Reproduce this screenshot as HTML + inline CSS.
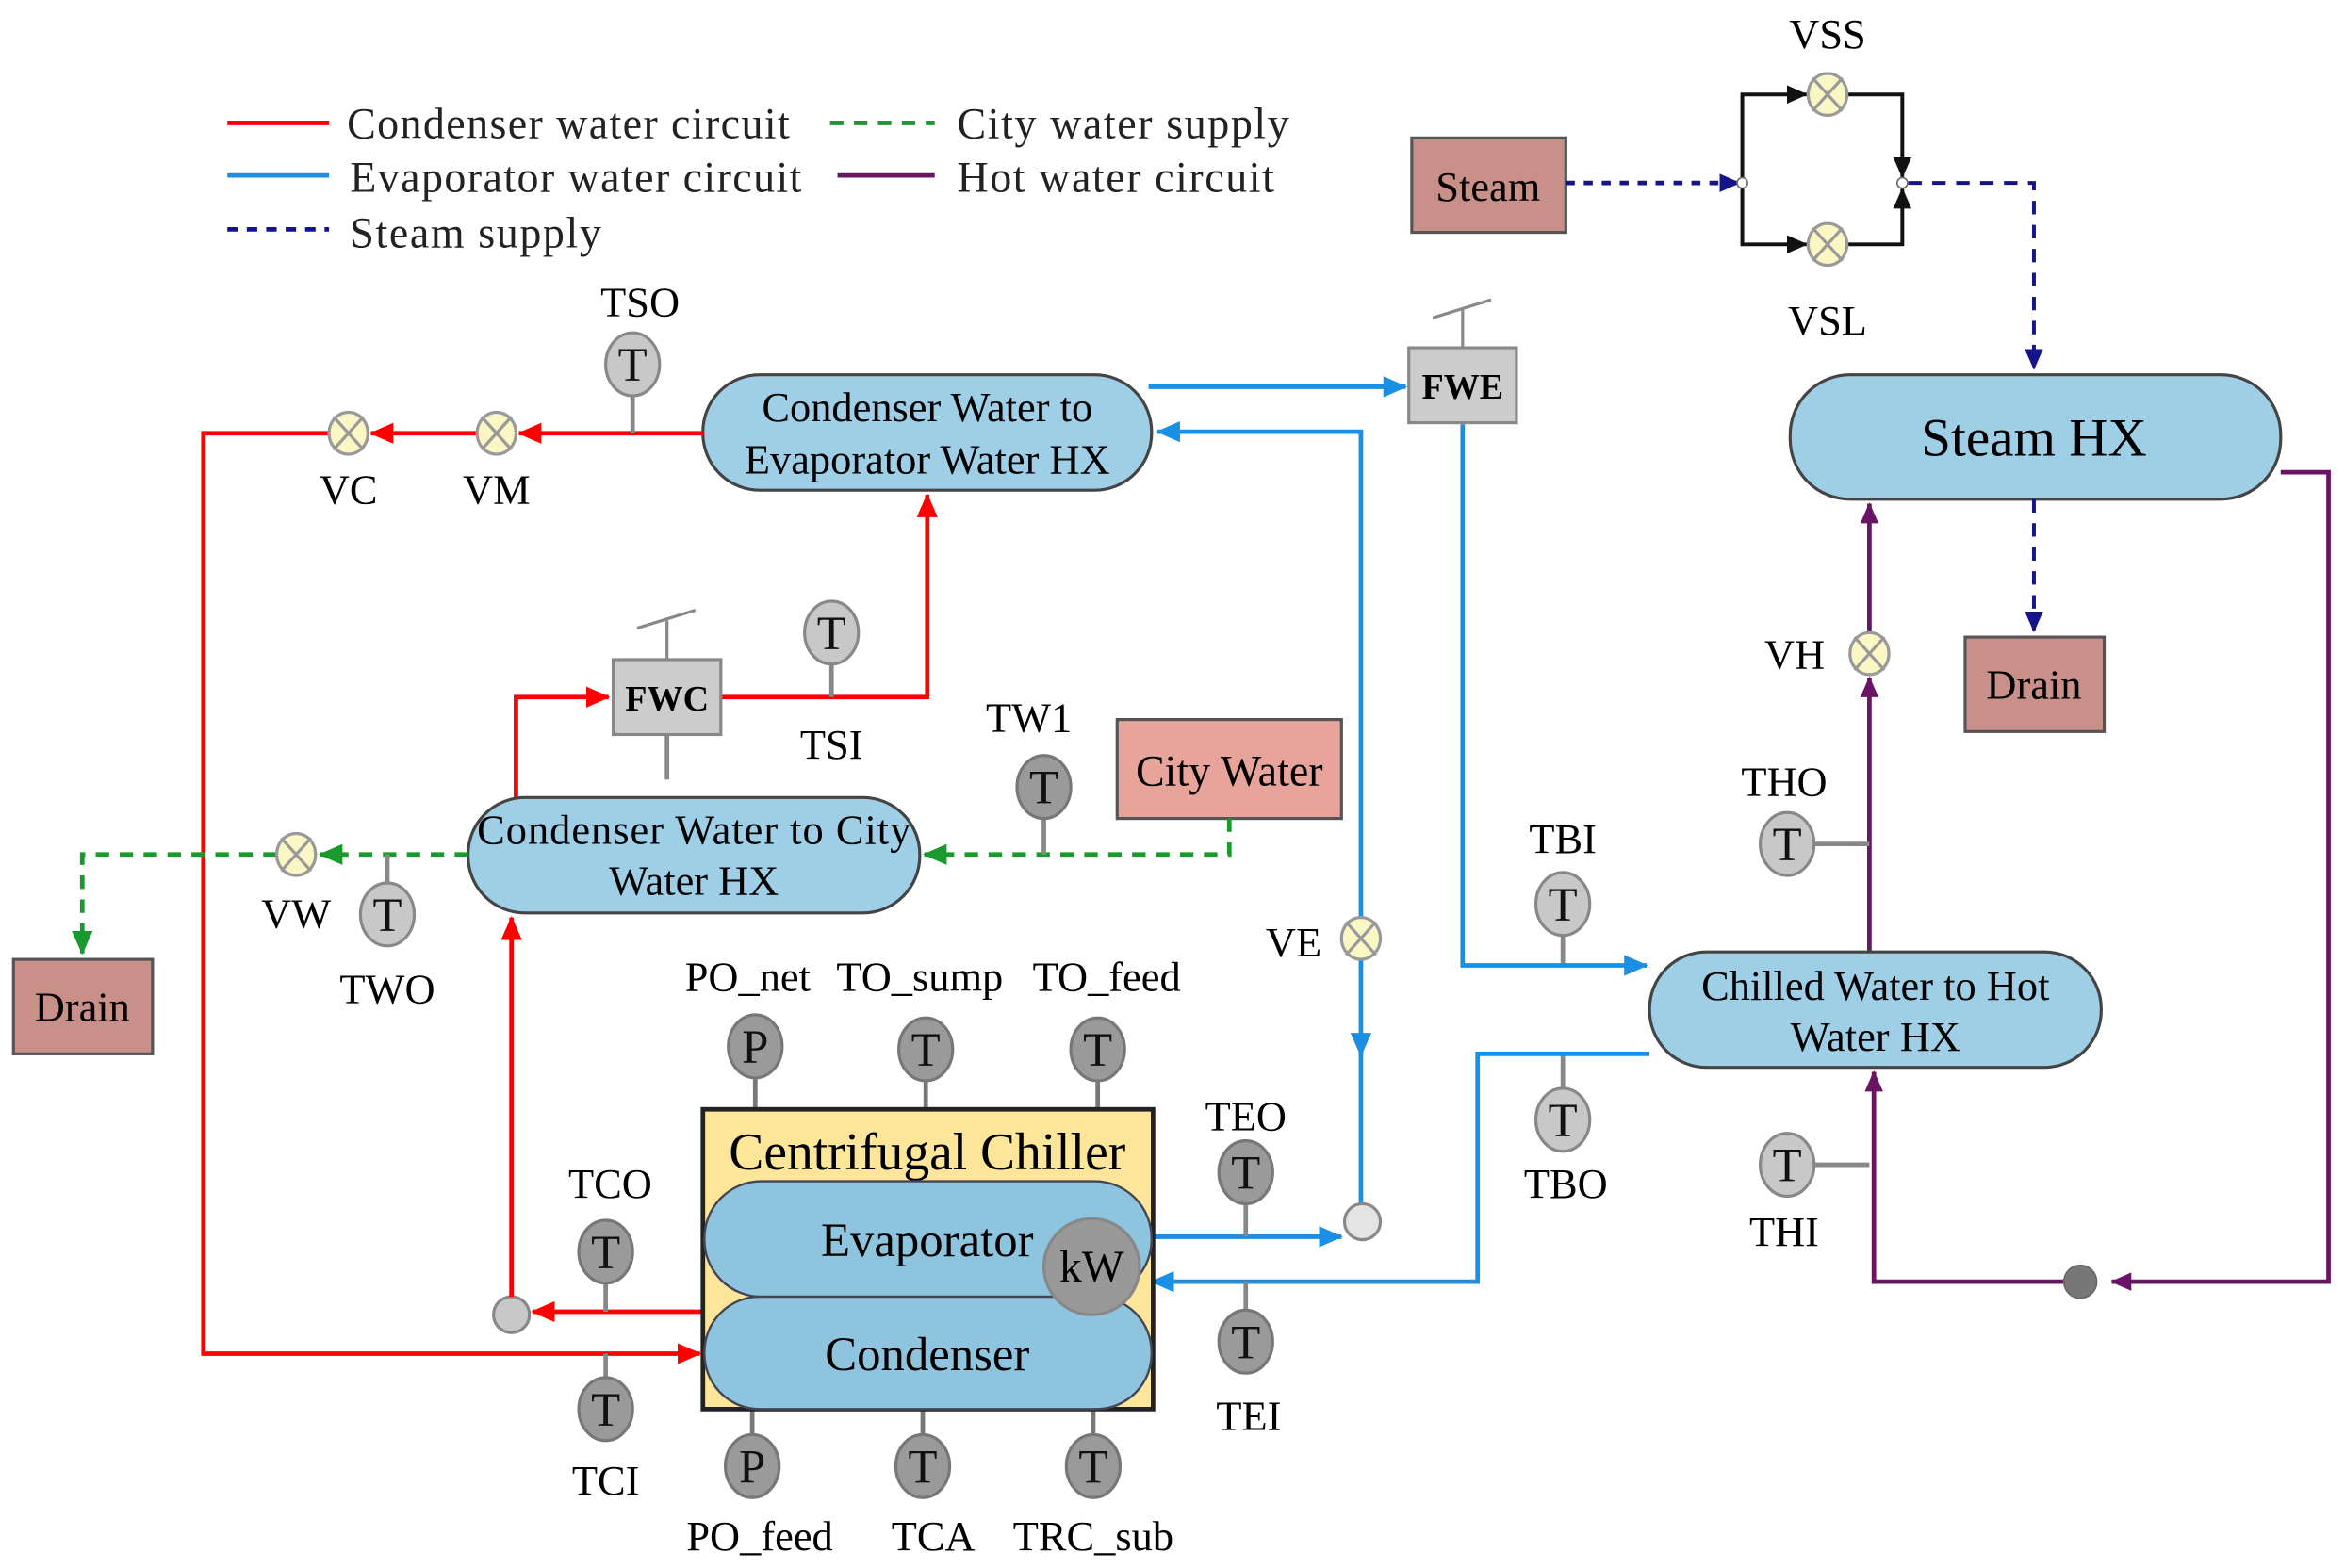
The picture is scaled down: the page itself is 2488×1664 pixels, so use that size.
<!DOCTYPE html>
<html><head><meta charset="utf-8"><style>html,body{margin:0;padding:0;background:#fff}svg{display:block}svg text{font-family:"Liberation Serif","Times New Roman",serif}</style></head>
<body>
<svg width="2488" height="1664" viewBox="0 0 1568 1046" preserveAspectRatio="none" xmlns="http://www.w3.org/2000/svg" style="font-family:'Liberation Serif',serif">
<defs>
<marker id="ab" viewBox="0 0 16 16" refX="15" refY="8" markerWidth="16" markerHeight="16" orient="auto" markerUnits="userSpaceOnUse"><path d="M0,1L16,8L0,15z" fill="#1a8fe3"/></marker>
<marker id="rr" viewBox="0 0 16 16" refX="15" refY="8" markerWidth="16" markerHeight="16" orient="auto" markerUnits="userSpaceOnUse"><path d="M0,1L16,8L0,15z" fill="#f00"/></marker>
<marker id="ag" viewBox="0 0 16 16" refX="15" refY="8" markerWidth="16" markerHeight="16" orient="auto" markerUnits="userSpaceOnUse"><path d="M0,1L16,8L0,15z" fill="#1a9a2e"/></marker>
<marker id="an" viewBox="0 0 16 16" refX="15" refY="8" markerWidth="14" markerHeight="14" orient="auto" markerUnits="userSpaceOnUse"><path d="M0,1L16,8L0,15z" fill="#14148c"/></marker>
<marker id="ap" viewBox="0 0 16 16" refX="15" refY="8" markerWidth="14" markerHeight="14" orient="auto" markerUnits="userSpaceOnUse"><path d="M0,1L16,8L0,15z" fill="#6a1466"/></marker>
<marker id="ak" viewBox="0 0 16 16" refX="15" refY="8" markerWidth="14" markerHeight="14" orient="auto" markerUnits="userSpaceOnUse"><path d="M0,1L16,8L0,15z" fill="#111"/></marker>
<g id="valve"><ellipse cx="0" cy="0" rx="13" ry="14" fill="#fbf7c4" stroke="#999" stroke-width="2"/><path d="M-10,-11L10,11M10,-11L-10,11" stroke="#999" stroke-width="2"/></g>
<g id="tl"><ellipse cx="0" cy="0" rx="18" ry="21" fill="#c8c8c8" stroke="#888" stroke-width="2"/><text x="0" y="11" font-size="32" text-anchor="middle" fill="#111">T</text></g>
<g id="td"><ellipse cx="0" cy="0" rx="18" ry="21" fill="#9a9a9a" stroke="#777" stroke-width="2"/><text x="0" y="11" font-size="32" text-anchor="middle" fill="#111">T</text></g>
<g id="pd"><ellipse cx="0" cy="0" rx="18" ry="21" fill="#9a9a9a" stroke="#777" stroke-width="2"/><text x="0" y="11" font-size="32" text-anchor="middle" fill="#111">P</text></g>
</defs>

<!-- legend -->
<g font-size="29" fill="#222">
<line x1="152" y1="82" x2="220" y2="82" stroke="#f00" stroke-width="3"/><text x="232" y="92" textLength="296">Condenser water circuit</text>
<line x1="152" y1="117" x2="220" y2="117" stroke="#1a8fe3" stroke-width="3"/><text x="234" y="128" textLength="302">Evaporator water circuit</text>
<line x1="152" y1="153" x2="220" y2="153" stroke="#14148c" stroke-width="3" stroke-dasharray="7,6"/><text x="234" y="165" textLength="168">Steam supply</text>
<line x1="555" y1="82" x2="625" y2="82" stroke="#1a9a2e" stroke-width="3" stroke-dasharray="9,7"/><text x="640" y="92" textLength="222">City water supply</text>
<line x1="560" y1="117" x2="625" y2="117" stroke="#6a1466" stroke-width="3"/><text x="640" y="128" textLength="212">Hot water circuit</text>
</g>

<!-- steam section -->
<rect x="944" y="92" width="103" height="63" fill="#c9908a" stroke="#555" stroke-width="2"/>
<text x="995" y="134" font-size="28" text-anchor="middle">Steam</text>
<path d="M1047,122H1163" stroke="#14148c" stroke-width="3" stroke-dasharray="6,6" fill="none" marker-end="url(#an)"/>
<path d="M1165,122V63H1208" stroke="#111" stroke-width="2.5" fill="none" marker-end="url(#ak)"/>
<path d="M1165,122V163H1208" stroke="#111" stroke-width="2.5" fill="none" marker-end="url(#ak)"/>
<path d="M1235,63H1272V118" stroke="#111" stroke-width="2.5" fill="none" marker-end="url(#ak)"/>
<path d="M1235,163H1272V126" stroke="#111" stroke-width="2.5" fill="none" marker-end="url(#ak)"/>
<circle cx="1165" cy="122" r="3.5" fill="#fff" stroke="#666"/>
<circle cx="1272" cy="122" r="3.5" fill="#fff" stroke="#666"/>
<use href="#valve" x="1222" y="63"/><use href="#valve" x="1222" y="163"/>
<text x="1222" y="32" font-size="28" text-anchor="middle">VSS</text>
<text x="1222" y="223" font-size="28" text-anchor="middle">VSL</text>
<path d="M1276,122H1360V246" stroke="#14148c" stroke-width="2.5" stroke-dasharray="9,7" fill="none" marker-end="url(#an)"/>

<rect x="1197" y="250" width="328" height="83" rx="40" fill="#9fcfe6" stroke="#444" stroke-width="2"/>
<text x="1360" y="304" font-size="36" text-anchor="middle">Steam HX</text>
<path d="M1360,333V421" stroke="#14148c" stroke-width="2.5" stroke-dasharray="9,7" fill="none" marker-end="url(#an)"/>
<rect x="1314" y="425" width="93" height="63" fill="#c9908a" stroke="#555" stroke-width="2"/>
<text x="1360" y="466" font-size="28" text-anchor="middle">Drain</text>

<!-- hot water circuit -->
<path d="M1525,315H1557V855H1412" stroke="#6a1466" stroke-width="3" fill="none" marker-end="url(#ap)"/>
<path d="M1391,855H1253V715" stroke="#6a1466" stroke-width="3" fill="none" marker-end="url(#ap)"/>
<circle cx="1391" cy="855" r="11" fill="#777" stroke="#666"/>
<path d="M1250,636V452" stroke="#6a1466" stroke-width="3" fill="none" marker-end="url(#ap)"/>
<path d="M1250,422V336" stroke="#6a1466" stroke-width="3" fill="none" marker-end="url(#ap)"/>
<use href="#valve" x="1250" y="436"/>
<text x="1200" y="446" font-size="28" text-anchor="middle">VH</text>
<line x1="1213" y1="563" x2="1250" y2="563" stroke="#888" stroke-width="3"/>
<use href="#tl" x="1195" y="563"/>
<text x="1193" y="531" font-size="28" text-anchor="middle">THO</text>
<line x1="1213" y1="777" x2="1250" y2="777" stroke="#888" stroke-width="3"/>
<use href="#tl" x="1195" y="777"/>
<text x="1193" y="831" font-size="28" text-anchor="middle">THI</text>

<!-- chilled water HX -->
<rect x="1103" y="635" width="302" height="77" rx="38" fill="#9fcfe6" stroke="#444" stroke-width="2"/>
<text x="1254" y="667" font-size="28" text-anchor="middle">Chilled Water to Hot</text>
<text x="1254" y="701" font-size="28" text-anchor="middle">Water HX</text>
<line x1="1045" y1="620" x2="1045" y2="644" stroke="#888" stroke-width="3"/>
<use href="#tl" x="1045" y="603"/>
<text x="1045" y="569" font-size="28" text-anchor="middle">TBI</text>
<line x1="1045" y1="703" x2="1045" y2="730" stroke="#888" stroke-width="3"/>
<use href="#tl" x="1045" y="747"/>
<text x="1047" y="799" font-size="28" text-anchor="middle">TBO</text>

<!-- blue circuit -->
<path d="M978,283V644H1101" stroke="#1a8fe3" stroke-width="3" fill="none" marker-end="url(#ab)"/>
<path d="M1103,703H988V855H770" stroke="#1a8fe3" stroke-width="3" fill="none" marker-end="url(#ab)"/>
<path d="M768,258H940" stroke="#1a8fe3" stroke-width="3" fill="none" marker-end="url(#ab)"/>
<path d="M910,612V288H774" stroke="#1a8fe3" stroke-width="3" fill="none" marker-end="url(#ab)"/>
<path d="M910,640V704" stroke="#1a8fe3" stroke-width="3" fill="none" marker-end="url(#ab)"/>
<path d="M910,700V804" stroke="#1a8fe3" stroke-width="3" fill="none"/>
<use href="#valve" x="910" y="626"/>
<text x="865" y="638" font-size="28" text-anchor="middle">VE</text>
<path d="M771,825H897" stroke="#1a8fe3" stroke-width="3" fill="none" marker-end="url(#ab)"/>
<circle cx="911" cy="815" r="12" fill="#e4e4e4" stroke="#888" stroke-width="2"/>
<line x1="833" y1="800" x2="833" y2="825" stroke="#888" stroke-width="3"/>
<use href="#td" x="833" y="782"/>
<text x="833" y="754" font-size="28" text-anchor="middle">TEO</text>
<line x1="833" y1="855" x2="833" y2="878" stroke="#888" stroke-width="3"/>
<use href="#td" x="833" y="895"/>
<text x="835" y="954" font-size="28" text-anchor="middle">TEI</text>

<!-- FWE -->
<line x1="978" y1="232" x2="978" y2="206" stroke="#888" stroke-width="2"/>
<line x1="958" y1="212" x2="997" y2="200" stroke="#888" stroke-width="2"/>
<rect x="942" y="232" width="72" height="50" fill="#cccccc" stroke="#888" stroke-width="2"/>
<text x="978" y="266" font-size="24" font-weight="bold" text-anchor="middle">FWE</text>

<!-- Condenser to evaporator HX -->
<rect x="470" y="250" width="300" height="77" rx="38" fill="#9fcfe6" stroke="#444" stroke-width="2"/>
<text x="620" y="281" font-size="28" text-anchor="middle">Condenser Water to</text>
<text x="620" y="316" font-size="28" text-anchor="middle">Evaporator Water HX</text>

<!-- red circuit -->
<path d="M470,289H347" stroke="#f00" stroke-width="3" fill="none" marker-end="url(#rr)"/>
<path d="M319,289H248" stroke="#f00" stroke-width="3" fill="none" marker-end="url(#rr)"/>
<path d="M220,289H136V903H468" stroke="#f00" stroke-width="3" fill="none" marker-end="url(#rr)"/>
<use href="#valve" x="332" y="289"/><use href="#valve" x="233" y="289"/>
<text x="332" y="336" font-size="28" text-anchor="middle">VM</text>
<text x="233" y="336" font-size="28" text-anchor="middle">VC</text>
<line x1="423" y1="262" x2="423" y2="289" stroke="#888" stroke-width="3"/>
<use href="#tl" x="423" y="243"/>
<text x="428" y="211" font-size="28" text-anchor="middle">TSO</text>
<path d="M470,875H356" stroke="#f00" stroke-width="3" fill="none" marker-end="url(#rr)"/>
<circle cx="342" cy="877" r="12" fill="#c8c8c8" stroke="#888" stroke-width="2"/>
<path d="M342,865V612" stroke="#f00" stroke-width="3" fill="none" marker-end="url(#rr)"/>
<path d="M345,532V465H407" stroke="#f00" stroke-width="3" fill="none" marker-end="url(#rr)"/>
<path d="M482,465H620V330" stroke="#f00" stroke-width="3" fill="none" marker-end="url(#rr)"/>
<line x1="405" y1="853" x2="405" y2="875" stroke="#888" stroke-width="3"/>
<use href="#td" x="405" y="835"/>
<text x="408" y="799" font-size="28" text-anchor="middle">TCO</text>
<line x1="405" y1="903" x2="405" y2="923" stroke="#888" stroke-width="3"/>
<use href="#td" x="405" y="940"/>
<text x="405" y="997" font-size="28" text-anchor="middle">TCI</text>
<line x1="556" y1="440" x2="556" y2="465" stroke="#888" stroke-width="3"/>
<use href="#tl" x="556" y="422"/>
<text x="556" y="506" font-size="28" text-anchor="middle">TSI</text>

<!-- FWC -->
<line x1="446" y1="440" x2="446" y2="414" stroke="#888" stroke-width="2"/>
<line x1="426" y1="419" x2="465" y2="407" stroke="#888" stroke-width="2"/>
<line x1="446" y1="490" x2="446" y2="520" stroke="#888" stroke-width="3"/>
<rect x="410" y="440" width="72" height="50" fill="#cccccc" stroke="#888" stroke-width="2"/>
<text x="446" y="474" font-size="24" font-weight="bold" text-anchor="middle">FWC</text>

<!-- City water HX -->
<rect x="313" y="532" width="302" height="77" rx="38" fill="#9fcfe6" stroke="#444" stroke-width="2"/>
<text x="464" y="563" font-size="28" text-anchor="middle" textLength="290">Condenser Water to City</text>
<text x="464" y="597" font-size="28" text-anchor="middle">Water HX</text>
<rect x="747" y="480" width="150" height="66" fill="#e8a49a" stroke="#555" stroke-width="2"/>
<text x="822" y="524" font-size="29" text-anchor="middle">City Water</text>
<path d="M822,546V570H618" stroke="#1a9a2e" stroke-width="3" stroke-dasharray="9,7" fill="none" marker-end="url(#ag)"/>
<line x1="698" y1="545" x2="698" y2="570" stroke="#888" stroke-width="3"/>
<use href="#td" x="698" y="525"/>
<text x="688" y="488" font-size="28" text-anchor="middle">TW1</text>
<path d="M313,570H214" stroke="#1a9a2e" stroke-width="3" stroke-dasharray="9,7" fill="none" marker-end="url(#ag)"/>
<path d="M185,570H55V636" stroke="#1a9a2e" stroke-width="3" stroke-dasharray="9,7" fill="none" marker-end="url(#ag)"/>
<use href="#valve" x="198" y="570"/>
<text x="198" y="619" font-size="28" text-anchor="middle">VW</text>
<line x1="259" y1="570" x2="259" y2="592" stroke="#888" stroke-width="3"/>
<use href="#tl" x="259" y="610"/>
<text x="259" y="669" font-size="28" text-anchor="middle">TWO</text>
<rect x="9" y="640" width="93" height="63" fill="#c9908a" stroke="#555" stroke-width="2"/>
<text x="55" y="681" font-size="28" text-anchor="middle">Drain</text>

<!-- chiller -->
<line x1="505" y1="715" x2="505" y2="740" stroke="#777" stroke-width="3"/>
<line x1="619" y1="715" x2="619" y2="740" stroke="#777" stroke-width="3"/>
<line x1="734" y1="715" x2="734" y2="740" stroke="#777" stroke-width="3"/>
<line x1="503" y1="940" x2="503" y2="962" stroke="#777" stroke-width="3"/>
<line x1="617" y1="940" x2="617" y2="962" stroke="#777" stroke-width="3"/>
<line x1="731" y1="940" x2="731" y2="962" stroke="#777" stroke-width="3"/>
<rect x="470" y="740" width="301" height="200" fill="#fde59a" stroke="#222" stroke-width="3"/>
<text x="620" y="780" font-size="35" text-anchor="middle">Centrifugal Chiller</text>
<rect x="471" y="788" width="299" height="77" rx="38" fill="#8ec4de" stroke="#445" stroke-width="1.5"/>
<rect x="471" y="865" width="299" height="75" rx="37" fill="#8ec4de" stroke="#445" stroke-width="1.5"/>
<text x="620" y="838" font-size="32" text-anchor="middle">Evaporator</text>
<text x="620" y="914" font-size="32" text-anchor="middle">Condenser</text>
<circle cx="730" cy="845" r="32" fill="#999" stroke="#888" stroke-width="2"/>
<text x="730" y="855" font-size="30" text-anchor="middle">kW</text>
<use href="#pd" x="505" y="698"/><use href="#td" x="619" y="700"/><use href="#td" x="734" y="700"/>
<use href="#pd" x="503" y="978"/><use href="#td" x="617" y="978"/><use href="#td" x="731" y="978"/>
<g font-size="28" text-anchor="middle">
<text x="500" y="661">PO_net</text><text x="615" y="661">TO_sump</text><text x="740" y="661">TO_feed</text>
<text x="508" y="1034">PO_feed</text><text x="624" y="1034">TCA</text><text x="731" y="1034">TRC_sub</text>
</g>
</svg>
</body></html>
